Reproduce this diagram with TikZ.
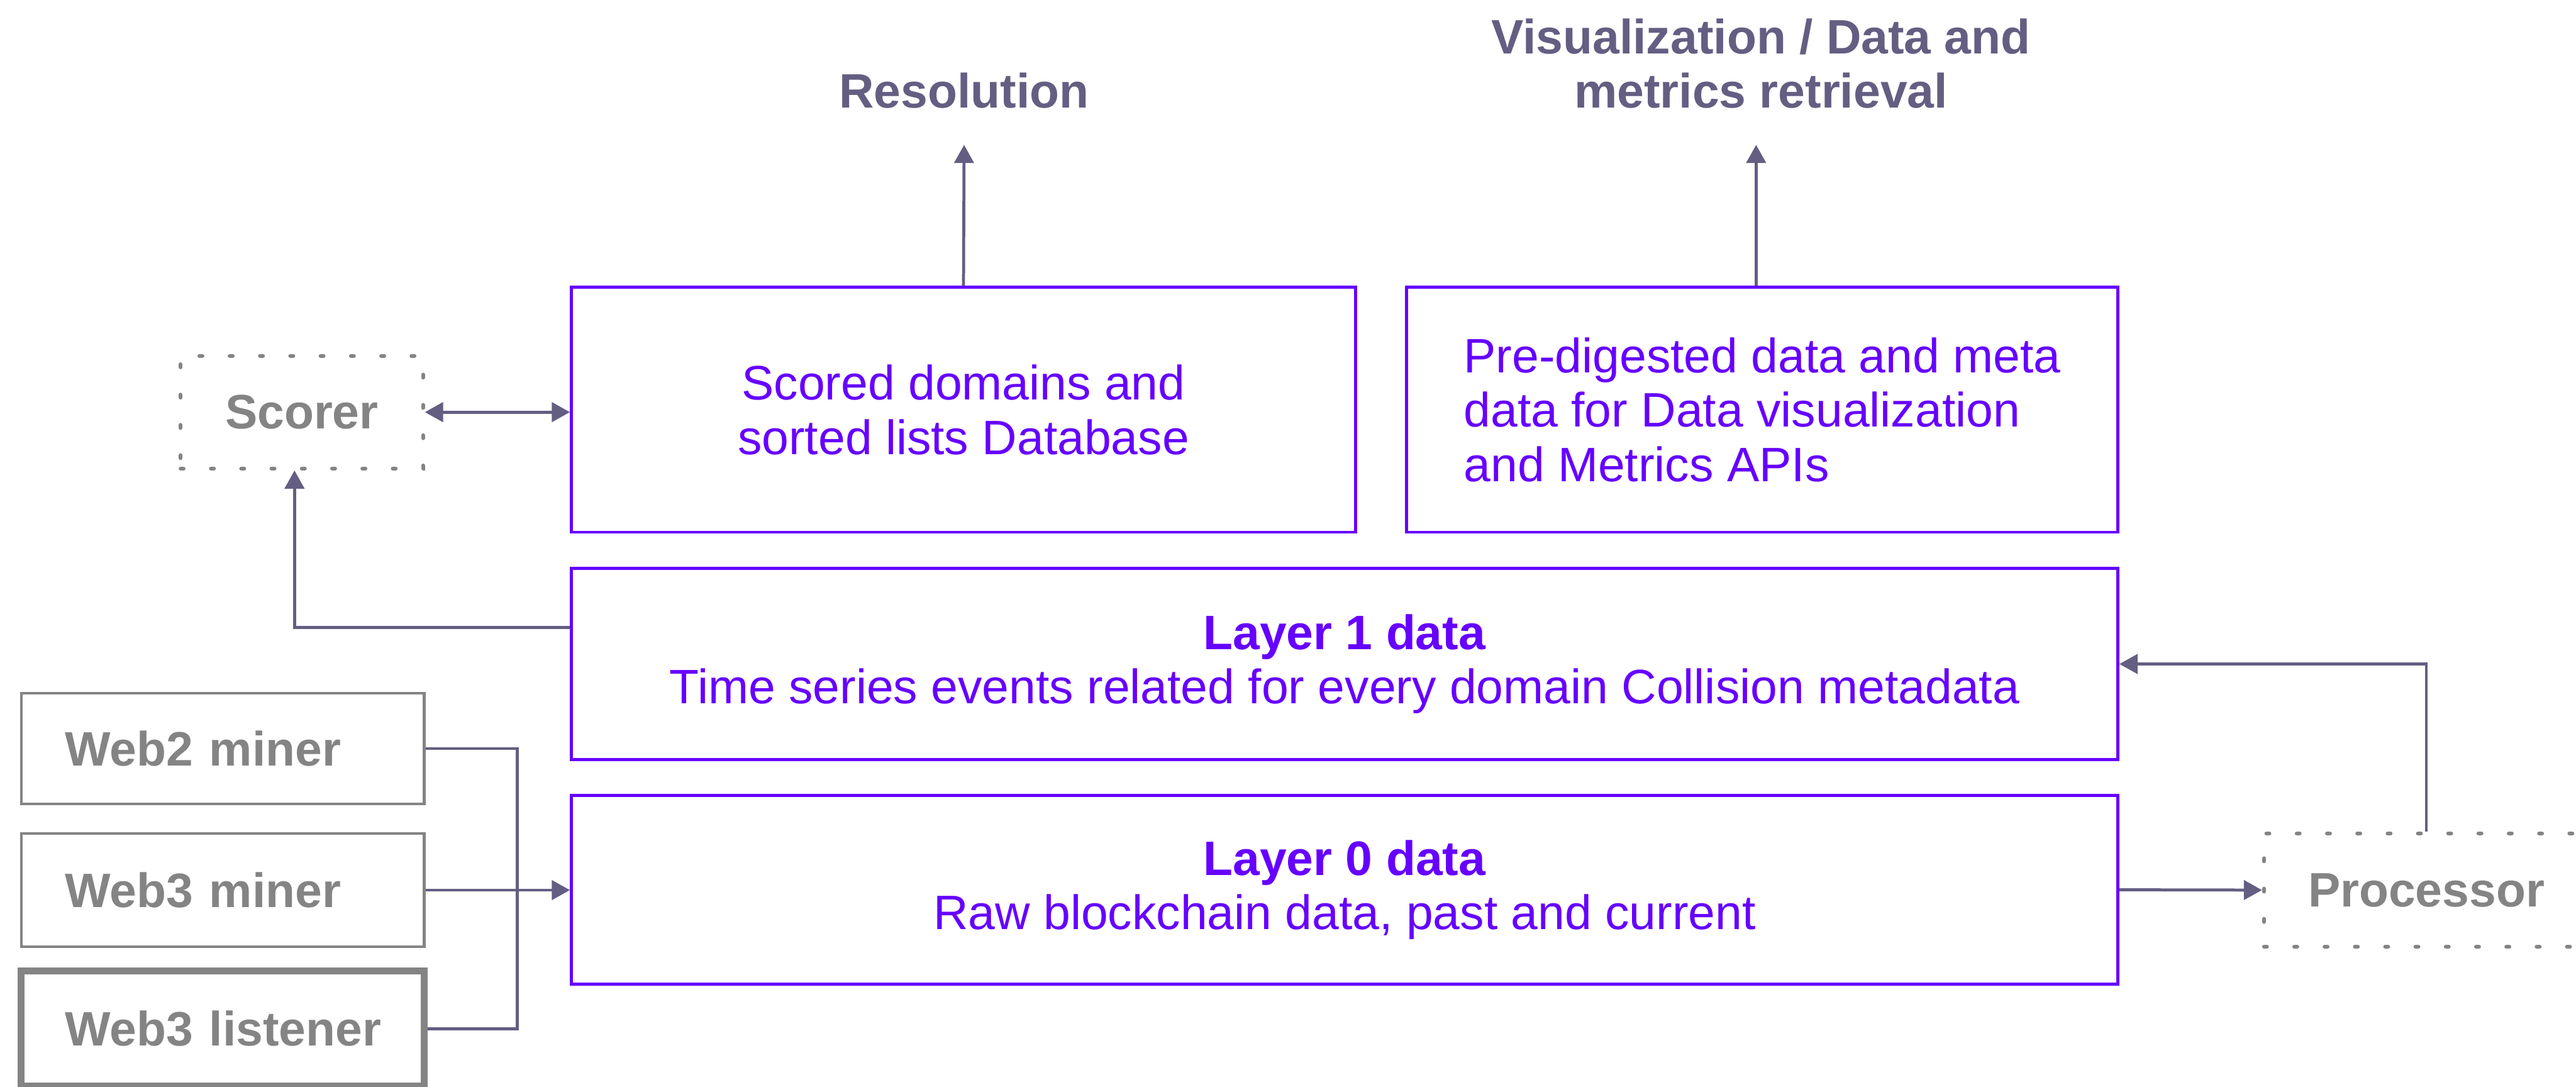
\documentclass[tikz,border=0pt]{standalone}
\usepackage{fontspec}
\setmainfont{Liberation Sans}
\usetikzlibrary{arrows.meta}
\definecolor{layerpurple}{HTML}{6600FF}
\definecolor{toolgrey}{HTML}{848484}
\definecolor{flowslate}{HTML}{645E82}
\newcommand{\bigtxt}{\fontsize{22.7}{25.5}\selectfont}
\tikzset{
  store/.style={rectangle, draw=layerpurple, line width=1.4pt, text=layerpurple, align=center,
                inner sep=0pt, font=\bigtxt},
  miner/.style={rectangle, draw=toolgrey, line width=1.2pt, text=toolgrey, inner xsep=0.375cm, inner ysep=0pt,
                text width=5.9cm, align=left, execute at begin node={\hspace*{0.35cm}}, font=\bigtxt\bfseries},
  ext/.style={rectangle, draw=toolgrey, line width=1.8pt, dash pattern=on 0.05cm off 0.45cm,
              line cap=round, text=toolgrey, inner sep=0pt, font=\bigtxt\bfseries},
  outlbl/.style={text=flowslate, align=center, font=\bigtxt\bfseries},
  ln/.style={draw=flowslate, line width=1.4pt},
  fl/.style={ln, >={Triangle[length=0.3cm, width=0.32cm]}, ->},
}
\begin{document}
\begin{tikzpicture}
\useasboundingbox (0,0) rectangle (42.51,-17.93);

\node[store, minimum width=12.94cm, minimum height=4.04cm] (db) at (15.90,-6.76) {Scored domains and\\sorted lists Database};
\node[store, align=left, minimum width=11.74cm, minimum height=4.04cm] (pre) at (29.08,-6.76) {Pre-digested data and meta\\data for Data visualization\\and Metrics APIs};
\node[store, minimum width=25.52cm, minimum height=3.15cm] (l1) at (22.19,-10.955) {\textbf{Layer 1 data}\\Time series events related for every domain Collision metadata};
\node[store, minimum width=25.52cm, minimum height=3.12cm] (l0) at (22.19,-14.68) {\textbf{Layer 0 data}\\Raw blockchain data, past and current};

\node[ext, minimum width=4.0cm, minimum height=1.86cm] (scorer) at (4.98,-6.80) {Scorer};
\node[ext, minimum width=5.36cm, minimum height=1.87cm] (proc) at (40.04,-14.685) {Processor};

\node[miner, minimum height=1.82cm] (web2) at (3.675,-12.35) {Web2 miner};
\node[miner, minimum height=1.87cm] (web3m) at (3.675,-14.685) {Web3 miner};
\node[miner, minimum height=1.9cm, line width=3.2pt] (web3l) at (3.675,-16.97) {Web3 listener};

\node[outlbl] (res) at (15.91,-1.49) {Resolution};
\node[outlbl] (vis) at (29.06,-1.05) {Visualization / Data and\\metrics retrieval};

\coordinate (restip) at (15.91,-2.39);
\coordinate (vistip) at (28.98,-2.39);
\coordinate (bus) at (8.54,-14.685);

\draw[fl] (db.north) -- (restip);
\draw[fl] (pre.north -| vistip) -- (vistip);
\draw[fl, <->] (scorer.east) -- (scorer.east -| db.west);
\draw[fl] ([yshift=6mm]l1.west) -| ([xshift=-1.2mm]scorer.south);
\draw[ln] (web2.east) -| (bus) |- (web3l.east);
\draw[fl] (web3m.east) -- (web3m.east -| l0.west);
\draw[fl] (l0.east) -- (proc.west);
\draw[fl] (proc.north) |- (l1.east);
\end{tikzpicture}
\end{document}
